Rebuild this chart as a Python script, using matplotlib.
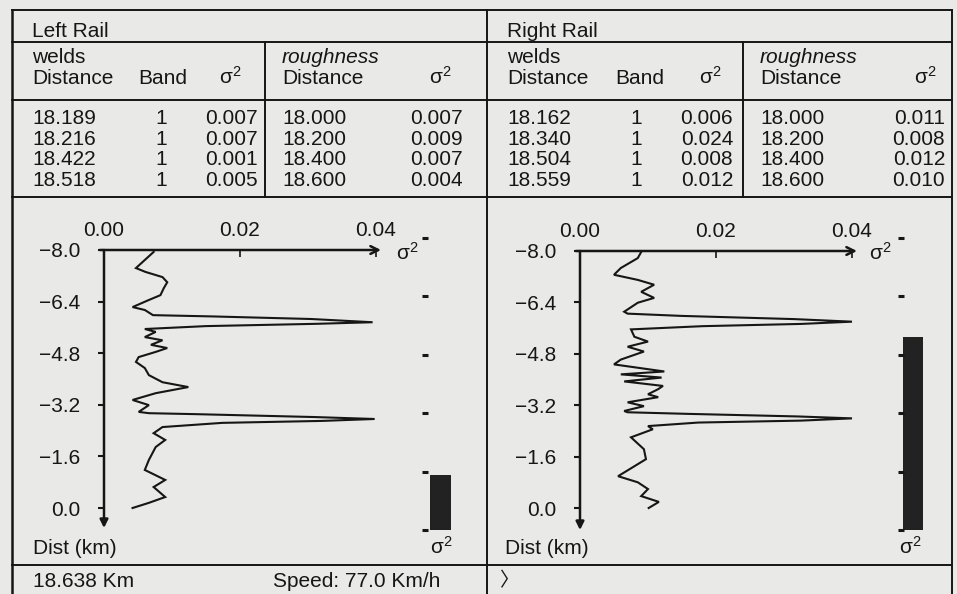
import matplotlib
matplotlib.use("Agg")
import matplotlib.pyplot as plt
from matplotlib.lines import Line2D
import numpy as np

plt.rcParams['font.family'] = ['Liberation Sans', 'Noto Sans CJK JP', 'DejaVu Sans']
plt.rcParams['mathtext.default'] = 'regular'
plt.rcParams['axes.unicode_minus'] = True

# ---------------- data ----------------
left_weld_dist = ["18.189", "18.216", "18.422", "18.518"]
left_weld_band = ["1", "1", "1", "1"]
left_weld_sig = ["0.007", "0.007", "0.001", "0.005"]
left_rough_dist = ["18.000", "18.200", "18.400", "18.600"]
left_rough_sig = ["0.007", "0.009", "0.007", "0.004"]

right_weld_dist = ["18.162", "18.340", "18.504", "18.559"]
right_weld_band = ["1", "1", "1", "1"]
right_weld_sig = ["0.006", "0.024", "0.008", "0.012"]
right_rough_dist = ["18.000", "18.200", "18.400", "18.600"]
right_rough_sig = ["0.011", "0.008", "0.012", "0.010"]

x_ticks = [0.00, 0.02, 0.04]
y_ticks = [-8.0, -6.4, -4.8, -3.2, -1.6, 0.0]

left_sigma = [0.0073, 0.0047, 0.0061, 0.0086, 0.0093, 0.0088, 0.0083, 0.0066, 0.0042, 0.0060,
              0.0072, 0.0160, 0.0305, 0.0395, 0.0310, 0.0150, 0.0060,
              0.0076, 0.0060, 0.0086, 0.0069, 0.0093, 0.0076, 0.0051, 0.0047, 0.0060, 0.0066,
              0.0086, 0.0124, 0.0076, 0.0042, 0.0066, 0.0051,
              0.0066, 0.0135, 0.0310, 0.0398, 0.0320, 0.0174, 0.0086,
              0.0073, 0.0090, 0.0076, 0.0066, 0.0060, 0.0090, 0.0073, 0.0090, 0.0066, 0.0042]
left_dist = [-7.94, -7.44, -7.32, -7.16, -7.00, -6.82, -6.60, -6.45, -6.23, -6.14,
             -5.98, -5.94, -5.86, -5.76, -5.71, -5.64, -5.55,
             -5.46, -5.30, -5.20, -5.06, -4.96, -4.84, -4.68, -4.53, -4.34, -4.12,
             -3.90, -3.75, -3.56, -3.35, -3.19, -2.98,
             -2.94, -2.91, -2.82, -2.76, -2.70, -2.64, -2.51,
             -2.32, -2.11, -1.89, -1.49, -1.18, -0.87, -0.65, -0.34, -0.16, 0.00]

right_sigma = [0.0090, 0.0085, 0.0060, 0.0050, 0.0085, 0.0109, 0.0090, 0.0109, 0.0085, 0.0065,
               0.0070, 0.0149, 0.0315, 0.0400, 0.0325, 0.0180, 0.0075,
               0.0080, 0.0100, 0.0070, 0.0094, 0.0060, 0.0050, 0.0124, 0.0060, 0.0120, 0.0065,
               0.0122, 0.0115, 0.0100, 0.0115, 0.0070, 0.0094, 0.0065,
               0.0070, 0.0159, 0.0320, 0.0400, 0.0325, 0.0174, 0.0100,
               0.0107, 0.0075, 0.0094, 0.0097, 0.0080, 0.0056, 0.0085, 0.0100, 0.0090, 0.0116, 0.0101]
right_dist = [-7.97, -7.78, -7.47, -7.26, -7.10, -6.95, -6.73, -6.54, -6.39, -6.11,
              -6.05, -5.98, -5.88, -5.80, -5.73, -5.66, -5.56,
              -5.33, -5.18, -5.02, -4.87, -4.62, -4.47, -4.25, -4.16, -4.06, -3.94,
              -3.80, -3.70, -3.54, -3.45, -3.29, -3.17, -3.02,
              -2.98, -2.93, -2.85, -2.79, -2.72, -2.66, -2.55,
              -2.45, -2.20, -1.83, -1.52, -1.30, -0.99, -0.80, -0.59, -0.37, -0.19, 0.00]

bar_levels = [0, 1, 2, 3, 4, 5]
left_bar = 0.95
right_bar = 3.3

# ---------------- figure ----------------
W, H = 957, 594
BG = '#e9e9e7'
INK = '#161616'
fig = plt.figure(figsize=(W / 100, H / 100), dpi=100, facecolor=BG)
FS = 15


def fx(x):
    return x / W


def fy(y):
    return 1 - y / H


def hline(x0, x1, y, lw=1.4):
    fig.add_artist(Line2D([fx(x0), fx(x1)], [fy(y), fy(y)], transform=fig.transFigure,
                          color=INK, lw=lw))


def vline(x, y0, y1, lw=1.4):
    fig.add_artist(Line2D([fx(x), fx(x)], [fy(y0), fy(y1)], transform=fig.transFigure,
                          color=INK, lw=lw))


def txt(x, y, s, ha='left', style='normal', size=FS):
    fig.text(fx(x), fy(y), s, ha=ha, va='baseline', fontsize=size, color=INK, style=style)


SIG = 'σ$^{2}$'

# frame lines
hline(12, 952, 10)
hline(12, 952, 42)
hline(12, 952, 100)
hline(12, 952, 197)
hline(12, 952, 565)
vline(12, 10, 594, lw=1.8)
vline(487, 10, 594)
vline(952, 10, 594)
vline(265, 42, 197)
vline(743, 42, 197)

row_y = [124, 145, 165, 186]


def panel_table(ox, title, wd, wb, ws, rd, rs, band_x, one_x, wsig_r, rough_x, rsig_r, hsig1, hsig2):
    txt(ox, 37, title)
    txt(ox, 63, 'welds')
    txt(ox, 84, 'Distance')
    txt(band_x, 84, 'Band')
    txt(hsig1, 84, SIG, ha='right')
    txt(rough_x, 63, 'roughness', style='italic')
    txt(rough_x, 84, 'Distance')
    txt(hsig2, 84, SIG, ha='right')
    for i, y in enumerate(row_y):
        txt(ox, y, wd[i])
        txt(one_x, y, wb[i], ha='center')
        txt(wsig_r, y, ws[i], ha='right')
        txt(rough_x, y, rd[i])
        txt(rsig_r, y, rs[i], ha='right')


panel_table(32, 'Left Rail', left_weld_dist, left_weld_band, left_weld_sig,
            left_rough_dist, left_rough_sig, 138, 161, 258, 282, 463, 241, 451)
panel_table(507, 'Right Rail', right_weld_dist, right_weld_band, right_weld_sig,
            right_rough_dist, right_rough_sig, 615, 636, 733, 760, 945, 721, 936)

# bottom row
txt(33, 587, '18.638 Km')
txt(273, 587, 'Speed: 77.0 Km/h')
fig.text(fx(500), fy(586), '〉', ha='left', va='baseline', fontsize=14, color=INK,
         family=['Noto Sans CJK JP', 'DejaVu Sans'])


def plot_panel(x0, x_end, y_top, y_zero, y_end, sig, dist, ylab_x, siglab_x):
    px_per_unit = 136.0 / 0.02
    xmax = (x_end - x0) / px_per_unit
    py_per_unit = (y_zero - y_top) / 8.0
    ymax = (y_end - y_zero) / py_per_unit
    ax = fig.add_axes([fx(x0), fy(y_end), (x_end - x0) / W, (y_end - y_top) / H])
    ax.set_facecolor('none')
    ax.set_xlim(0, xmax)
    ax.set_ylim(ymax, -8.0)
    for s in ax.spines.values():
        s.set_visible(False)
    ax.xaxis.tick_top()
    ax.set_xticks(x_ticks)
    ax.set_xticklabels([f'{v:.2f}' for v in x_ticks])
    ax.set_yticks(y_ticks)
    ax.set_yticklabels([f'{v:.1f}'.replace('-', '\u2212') for v in y_ticks])
    ax.tick_params(axis='x', direction='in', length=5, width=1.2, pad=7, labelsize=FS,
                   colors=INK)
    ax.tick_params(axis='y', direction='out', length=4, width=1.5, pad=13, labelsize=FS,
                   colors=INK)
    # axis lines with arrows
    ax.annotate('', xy=(1.0, 1.0), xytext=(-0.015, 1.0), xycoords='axes fraction',
                arrowprops=dict(arrowstyle='->', color=INK, lw=1.8, shrinkA=0, shrinkB=0,
                                mutation_scale=14))
    ax.annotate('', xy=(0.0, 0.0), xytext=(0.0, 1.0), xycoords='axes fraction',
                arrowprops=dict(arrowstyle='-|>', color=INK, lw=1.8, shrinkA=0, shrinkB=0,
                                mutation_scale=12))
    ax.plot(sig, dist, color=INK, lw=1.5, clip_on=False, solid_joinstyle='miter')
    txt(ylab_x, 554, 'Dist (km)')
    txt(siglab_x, 260, SIG)
    return ax


plot_panel(104, 381, 250, 508, 528, left_sigma, left_dist, 33, 396)
plot_panel(580, 857, 251, 508, 530, right_sigma, right_dist, 505, 869)


def bar_panel(x_dot, x_bar0, x_bar1, value, lab_x):
    top_px, bot_px = 238, 530
    unit = (bot_px - top_px) / 5.0
    ax = fig.add_axes([fx(x_dot - 4), fy(bot_px), (x_bar1 - x_dot + 6) / W,
                       (bot_px - top_px + 2) / H])
    ax.set_facecolor('none')
    ax.axis('off')
    ax.set_xlim(x_dot - 4, x_bar1 + 2)
    ax.set_ylim(0, (bot_px - top_px + 2) / unit)
    ax.plot([x_dot] * len(bar_levels), bar_levels, ls='none', marker='_', ms=4, mew=2.2,
            color=INK, clip_on=False)
    ax.bar([(x_bar0 + x_bar1) / 2], [value], width=x_bar1 - x_bar0, color='#222222',
           align='center')
    txt(lab_x, 554, SIG)


bar_panel(425, 430, 451, left_bar, 430)
bar_panel(901, 903, 923, right_bar, 899)

fig.savefig('out.png', dpi=100, facecolor=BG)
